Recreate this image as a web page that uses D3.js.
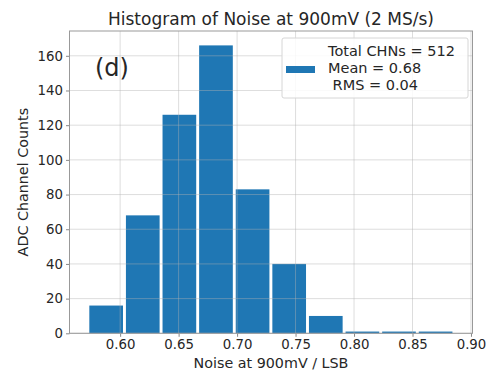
<!DOCTYPE html>
<html><head><meta charset="utf-8">
<script src="https://cdn.jsdelivr.net/npm/d3@7"></script>
<style>body{margin:0;background:#fff}svg{display:block}text{font-family:"DejaVu Sans",sans-serif;fill:#262626}</style>
</head><body>
<script>
const binStart = 0.5724;
const binWidth = 0.0313;
const counts = [16, 68, 126, 166, 83, 40, 10, 1, 1, 1];
const xTicks = [0.60, 0.65, 0.70, 0.75, 0.80, 0.85, 0.90];
const yTicks = [0, 20, 40, 60, 80, 100, 120, 140, 160];
const legendLines = ["Total CHNs = 512", "Mean = 0.68", " RMS = 0.04"];
const title = "Histogram of Noise at 900mV (2 MS/s)";

const W = 487, H = 372;
const m = {l: 69.5, r: 472.5, t: 31, b: 333.3};
const svg = d3.select("body").append("svg").attr("width", W).attr("height", H);
const x = d3.scaleLinear().domain([0.5567, 0.9013]).range([m.l, m.r]);
const y = d3.scaleLinear().domain([0, 174.3]).range([m.b, m.t]);

const bins = counts.map((c, i) => ({x0: binStart + i*binWidth, x1: binStart + (i+1)*binWidth, c}));
const rw = 0.92;
svg.append("g").selectAll("rect").data(bins).join("rect")
  .attr("x", d => x(d.x0 + binWidth*(1-rw)/2))
  .attr("width", d => x(d.x0 + binWidth*rw) - x(d.x0))
  .attr("y", d => y(d.c))
  .attr("height", d => y(0) - y(d.c))
  .attr("fill", "#1f77b4");

// grid
const g = svg.append("g").attr("stroke", "#b0b0b0").attr("stroke-opacity", 0.55).attr("stroke-width", 0.8);
xTicks.forEach(t => g.append("line").attr("x1", x(t)).attr("x2", x(t)).attr("y1", m.t).attr("y2", m.b));
yTicks.forEach(t => g.append("line").attr("x1", m.l).attr("x2", m.r).attr("y1", y(t)).attr("y2", y(t)));

// axes
const xa = svg.append("g").attr("transform", `translate(0,${m.b})`)
  .call(d3.axisBottom(x).tickValues(xTicks).tickFormat(d3.format(".2f")).tickSizeInner(3.5).tickSizeOuter(0).tickPadding(3));
const ya = svg.append("g").attr("transform", `translate(${m.l},0)`)
  .call(d3.axisLeft(y).tickValues(yTicks).tickSizeInner(3.5).tickSizeOuter(0).tickPadding(3));
[xa, ya].forEach(a => {
  a.select(".domain").remove();
  a.selectAll("line").attr("stroke", "#888");
  a.selectAll("text").attr("font-size", 13.3).attr("fill", "#262626").attr("font-family", "DejaVu Sans");
});
// spines
svg.append("rect").attr("x", m.l).attr("y", m.t).attr("width", m.r - m.l).attr("height", m.b - m.t)
  .attr("fill", "none").attr("stroke", "#999").attr("stroke-width", 1);

svg.append("text").attr("x", (m.l + m.r)/2).attr("y", 25).attr("text-anchor", "middle").attr("font-size", 17).text(title);
svg.append("text").attr("x", (m.l + m.r)/2).attr("y", 368).attr("text-anchor", "middle").attr("font-size", 14.3).text("Noise at 900mV / LSB");
svg.append("text").attr("transform", `translate(28,${(m.t + m.b)/2}) rotate(-90)`).attr("text-anchor", "middle").attr("font-size", 14.3).text("ADC Channel Counts");
svg.append("text").attr("x", 95).attr("y", 76).attr("font-size", 24).attr("fill", "#111").text("(d)");

// legend
const lg = svg.append("g");
lg.append("rect").attr("x", 282).attr("y", 38).attr("width", 186).attr("height", 60).attr("rx", 2)
  .attr("fill", "#fff").attr("fill-opacity", 0.85).attr("stroke", "#d6d6d6");
lg.append("rect").attr("x", 286).attr("y", 66).attr("width", 29).attr("height", 7).attr("fill", "#1f77b4");
legendLines.forEach((s, i) => lg.append("text").attr("x", 328).attr("y", 55.5 + i*17).attr("font-size", 14.5)
  .attr("xml:space", "preserve").style("white-space", "pre").text(s));
</script>
</body></html>
